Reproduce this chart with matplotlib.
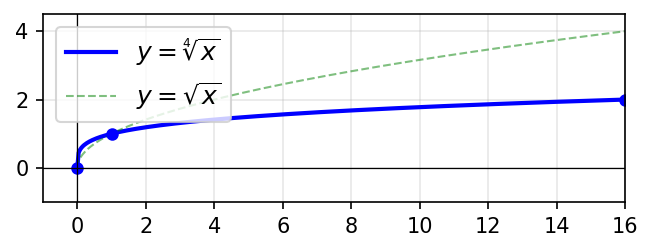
import matplotlib.pyplot as plt
import numpy as np

# curve domain and highlighted points
x_min, x_max = 0, 16
point_x = [0, 1, 16]
point_y = [0, 1, 2]

x = np.linspace(x_min, x_max, 400)
y_root4 = x ** 0.25
y_root2 = np.sqrt(x)

fig = plt.figure(figsize=(652 / 150, 252 / 150), dpi=150)
ax = fig.add_axes([0.066, 0.198, 0.893, 0.746])

ax.plot(x, y_root4, "b-", linewidth=2, label=r"$y = \sqrt[4]{x}$")
ax.plot(x, y_root2, "g--", linewidth=1, alpha=0.5, label=r"$y = \sqrt{x}$")
ax.plot(point_x, point_y, "bo", markersize=5)

ax.axhline(0, color="k", linewidth=0.6)
ax.axvline(0, color="k", linewidth=0.6)
ax.grid(True, alpha=0.3)
ax.axis([-1, 16, -1, 4.5])
ax.set_xticks(range(0, 17, 2))
ax.set_yticks([0, 2, 4])
ax.legend(loc="upper left", fontsize=12)

fig.savefig("out.png", dpi=150)
